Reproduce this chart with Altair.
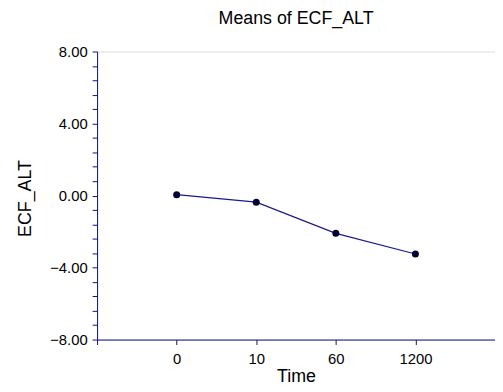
import altair as alt
import pandas as pd

times = ["0", "10", "60", "1200"]
means = [0.05, -0.37, -2.10, -3.25]
y_ticks = [round(-8 + 0.8 * i, 2) for i in range(21)]
x_ticks = [-1, 0, 1, 2, 3, 4]

df = pd.DataFrame({"pos": list(range(len(times))), "time": times, "mean": means})

label_expr = " : ".join(
    [f"datum.value == {i} ? '{t}'" for i, t in enumerate(times)]
) + " : ''"

y_label_expr = "abs(datum.value % 4) < 0.01 || abs(abs(datum.value % 4) - 4) < 0.01 ? format(datum.value, '.2f') : ''"

axis_color = "#101080"
font = "Liberation Sans"

x_enc = alt.X(
    "pos:Q",
    scale=alt.Scale(domain=[-1, 4], nice=False, zero=False),
    axis=alt.Axis(
        title="Time",
        values=x_ticks,
        labelExpr=label_expr,
        grid=False,
        tickSize=5,
        labelPadding=7,
        labelFontSize=15,
        titleFontSize=18,
        titleFontWeight="normal",
        titleY=37,
        titleBaseline="middle",
        domainColor=axis_color,
        tickColor=axis_color,
        labelColor="black",
        titleColor="black",
        labelFont=font,
        titleFont=font,
    ),
)
y_enc = alt.Y(
    "mean:Q",
    scale=alt.Scale(domain=[-8, 8], nice=False, zero=False),
    axis=alt.Axis(
        title="ECF_ALT",
        values=y_ticks,
        labelExpr=y_label_expr,
        labelOverlap=False,
        grid=False,
        tickSize=5,
        labelPadding=5,
        labelFontSize=15,
        titleFontSize=18,
        titleFontWeight="normal",
        titleX=-72,
        titleY=148,
        titleBaseline="middle",
        domainColor=axis_color,
        tickColor=axis_color,
        labelColor="black",
        titleColor="black",
        labelFont=font,
        titleFont=font,
    ),
)

line = alt.Chart(df).mark_line(color="#1a1a8c", strokeWidth=1.2).encode(x=x_enc, y=y_enc)
pts = alt.Chart(df).mark_point(filled=True, color="#000033", size=50, opacity=1).encode(x=x_enc, y=y_enc)

chart = (
    alt.layer(line, pts)
    .properties(
        width=402,
        height=291,
        title=alt.TitleParams(
            "Means of ECF_ALT", fontSize=18, fontWeight="normal", font=font, offset=17, anchor="middle"
        ),
        autosize=alt.AutoSizeParams(type="none"),
        padding={"left": 90, "top": 42, "right": 0, "bottom": 50},
    )
    .configure_view(stroke=None)
    .configure(background="white")
)

chart.save("out.html", embed_options={"renderer": "svg", "actions": False})
